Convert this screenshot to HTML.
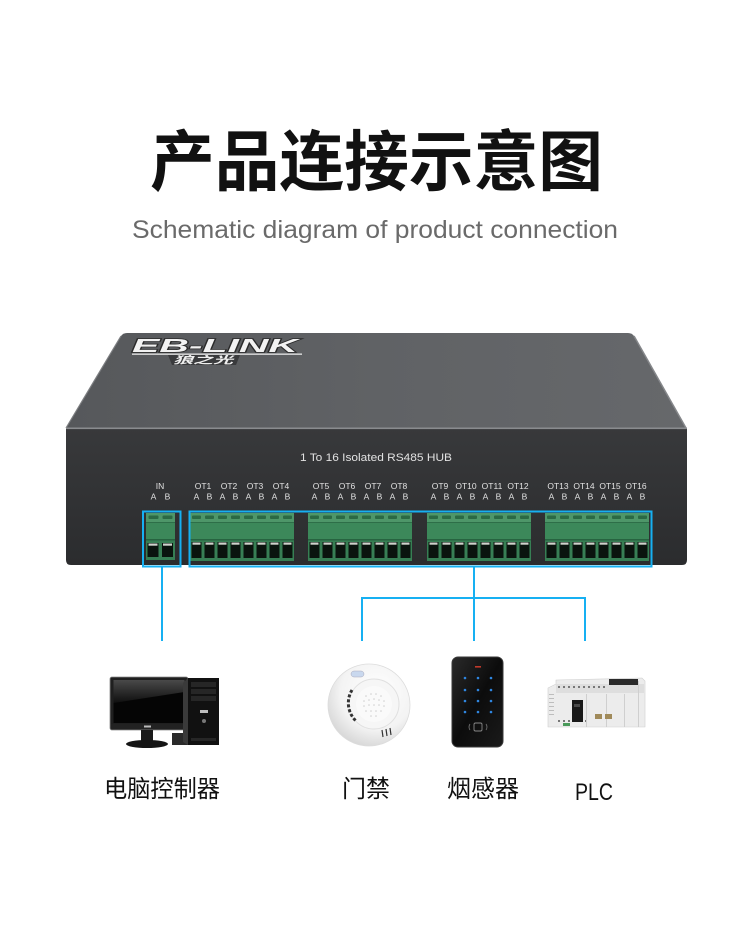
<!DOCTYPE html>
<html><head><meta charset="utf-8">
<style>
html,body{margin:0;padding:0;background:#fff;}
svg{display:block;}
</style></head>
<body>
<svg width="750" height="925" viewBox="0 0 750 925" xmlns="http://www.w3.org/2000/svg">
<defs>
  <linearGradient id="topg" x1="0" y1="0" x2="1" y2="0">
    <stop offset="0" stop-color="#56585b"/>
    <stop offset="0.5" stop-color="#606265"/>
    <stop offset="1" stop-color="#66686b"/>
  </linearGradient>
  <linearGradient id="frontg" x1="0" y1="0" x2="0" y2="1">
    <stop offset="0" stop-color="#38393b"/>
    <stop offset="1" stop-color="#2b2c2e"/>
  </linearGradient>
  <linearGradient id="scr" x1="0" y1="0" x2="0" y2="1">
    <stop offset="0" stop-color="#5a5a5a"/>
    <stop offset="1" stop-color="#111"/>
  </linearGradient>
  <radialGradient id="smk" cx="0.6" cy="0.35" r="0.75">
    <stop offset="0" stop-color="#ffffff"/>
    <stop offset="0.6" stop-color="#f3f3f3"/>
    <stop offset="1" stop-color="#cfcfcf"/>
  </radialGradient>
  <linearGradient id="kp" x1="0" y1="0" x2="1" y2="1">
    <stop offset="0" stop-color="#2a2a2a"/>
    <stop offset="0.5" stop-color="#0c0c0c"/>
    <stop offset="1" stop-color="#1a1a1a"/>
  </linearGradient>
  <g id="pin">
    <rect x="2" y="2.5" width="9" height="3.5" rx="1" fill="#2b6944"/>
    <rect x="1.5" y="29" width="10" height="16" fill="#0a140e"/>
    <rect x="2.5" y="29.5" width="8" height="2.2" fill="#cfd3cc"/>
  </g>
  <g id="blk">
    <rect width="104" height="48" fill="#377f54"/>
    <rect width="104" height="9" fill="#4e9669"/>
    <rect y="9" width="104" height="1" fill="#2e6e48"/>
    <rect y="10" width="104" height="16" fill="#3c885a"/>
    <rect y="26" width="104" height="1.5" fill="#276340"/>
    <use href="#pin" x="0"/><use href="#pin" x="13"/><use href="#pin" x="26"/><use href="#pin" x="39"/>
    <use href="#pin" x="52"/><use href="#pin" x="65"/><use href="#pin" x="78"/><use href="#pin" x="91"/>
  </g>
</defs>

<!-- Title -->
<text x="150" y="185" font-family="'Liberation Sans','Noto Sans CJK SC',sans-serif" font-size="66" font-weight="700" fill="#111" textLength="453" lengthAdjust="spacingAndGlyphs">产品连接示意图</text>
<text x="132" y="238" font-family="'Liberation Sans',sans-serif" font-size="25" fill="#6a6a6a" textLength="486" lengthAdjust="spacingAndGlyphs">Schematic diagram of product connection</text>

<!-- Device top surface -->
<path d="M127,333 L628,333 Q632,333 634,336 L686,428 L66,428 L121,336 Q123,333 127,333 Z" fill="url(#topg)"/>
<path d="M121,336 L66,428" stroke="#7c7e81" stroke-width="1.2"/>
<path d="M634,336 L686,428" stroke="#85878a" stroke-width="1.5"/>
<!-- Logo -->
<text x="132" y="352" font-family="'Liberation Sans',sans-serif" font-size="18" font-weight="700" font-style="italic" fill="#f2f2f2" stroke="#2a2a2a" stroke-width="1.4" paint-order="stroke" textLength="166" lengthAdjust="spacingAndGlyphs">EB-LINK</text>
<rect x="132" y="353.5" width="170" height="1.3" fill="#e8e8e8"/>
<path d="M168,355 L240,355 L236,365 L172,365 Z" fill="#3a3b3d"/>
<text x="173" y="363.5" font-family="'Liberation Sans','Noto Sans CJK SC',sans-serif" font-size="10" font-weight="700" font-style="italic" fill="#eeeeee" textLength="60" lengthAdjust="spacingAndGlyphs">狼之光</text>

<!-- Front face -->
<path d="M66,428 L687,428 L687,560 Q687,565 682,565 L71,565 Q66,565 66,560 Z" fill="url(#frontg)"/>
<rect x="66" y="427.5" width="621" height="1.6" fill="#8a8c8f"/>

<g font-family="'Liberation Sans',sans-serif" fill="#e2e2e2" text-anchor="middle">
  <text x="376" y="461" font-size="11" textLength="152" lengthAdjust="spacingAndGlyphs">1 To 16 Isolated RS485 HUB</text>
  <g font-size="8.5">
    <text x="160" y="489">IN</text>
    <text x="153.5" y="499.5">A</text><text x="167.5" y="499.5">B</text>

    <text x="203" y="489">OT1</text><text x="229" y="489">OT2</text><text x="255" y="489">OT3</text><text x="281" y="489">OT4</text>
    <text x="321" y="489">OT5</text><text x="347" y="489">OT6</text><text x="373" y="489">OT7</text><text x="399" y="489">OT8</text>
    <text x="440" y="489">OT9</text><text x="466" y="489">OT10</text><text x="492" y="489">OT11</text><text x="518" y="489">OT12</text>
    <text x="558" y="489">OT13</text><text x="584" y="489">OT14</text><text x="610" y="489">OT15</text><text x="636" y="489">OT16</text>

    <text x="196.5" y="499.5">A</text><text x="209.5" y="499.5">B</text><text x="222.5" y="499.5">A</text><text x="235.5" y="499.5">B</text>
    <text x="248.5" y="499.5">A</text><text x="261.5" y="499.5">B</text><text x="274.5" y="499.5">A</text><text x="287.5" y="499.5">B</text>

    <text x="314.5" y="499.5">A</text><text x="327.5" y="499.5">B</text><text x="340.5" y="499.5">A</text><text x="353.5" y="499.5">B</text>
    <text x="366.5" y="499.5">A</text><text x="379.5" y="499.5">B</text><text x="392.5" y="499.5">A</text><text x="405.5" y="499.5">B</text>

    <text x="433.5" y="499.5">A</text><text x="446.5" y="499.5">B</text><text x="459.5" y="499.5">A</text><text x="472.5" y="499.5">B</text>
    <text x="485.5" y="499.5">A</text><text x="498.5" y="499.5">B</text><text x="511.5" y="499.5">A</text><text x="524.5" y="499.5">B</text>

    <text x="551.5" y="499.5">A</text><text x="564.5" y="499.5">B</text><text x="577.5" y="499.5">A</text><text x="590.5" y="499.5">B</text>
    <text x="603.5" y="499.5">A</text><text x="616.5" y="499.5">B</text><text x="629.5" y="499.5">A</text><text x="642.5" y="499.5">B</text>
  </g>
</g>

<!-- IN block -->
<g transform="translate(146,513)">
  <rect width="29" height="47" fill="#377f54"/>
  <rect width="29" height="9" fill="#4e9669"/>
  <rect y="9" width="29" height="1" fill="#2e6e48"/>
  <rect y="10" width="29" height="16" fill="#3c885a"/>
  <rect y="26" width="29" height="1.5" fill="#276340"/>
  <rect x="2.5" y="2.5" width="10" height="3.5" rx="1" fill="#2b6944"/>
  <rect x="16.5" y="2.5" width="10" height="3.5" rx="1" fill="#2b6944"/>
  <rect x="1.5" y="30" width="11" height="14" fill="#0a140e"/>
  <rect x="2.5" y="30.5" width="9" height="2.2" fill="#cfd3cc"/>
  <rect x="16" y="30" width="11" height="14" fill="#0a140e"/>
  <rect x="17" y="30.5" width="9" height="2.2" fill="#cfd3cc"/>
</g>
<!-- OT blocks -->
<use href="#blk" x="190" y="513"/>
<use href="#blk" x="308" y="513"/>
<use href="#blk" x="427" y="513"/>
<use href="#blk" x="545" y="513"/>

<!-- Blue connectors -->
<g stroke="#16b0f2" stroke-width="2" fill="none">
  <rect x="143" y="511.5" width="37.5" height="55"/>
  <rect x="189.5" y="511.5" width="462" height="55"/>
  <line x1="162" y1="566.5" x2="162" y2="641"/>
  <line x1="474" y1="566.5" x2="474" y2="598"/>
  <polyline points="362,641 362,598 585,598 585,641"/>
  <line x1="474" y1="598" x2="474" y2="641"/>
</g>

<!-- Computer -->
<g>
  <rect x="172" y="733" width="17" height="12" fill="#2a2a2a"/>
  <rect x="110" y="677" width="78" height="53" rx="2" fill="#1f1f1f" stroke="#8a8a8a" stroke-width="0.8"/>
  <rect x="113.5" y="680" width="71" height="43" fill="#050505"/>
  <path d="M113.5,680 L184.5,680 L184.5,692 L113.5,703 Z" fill="url(#scr)" opacity="0.8"/>
  <rect x="111" y="724" width="76" height="5.5" fill="#222"/>
  <rect x="144" y="725.5" width="7" height="2" fill="#bbb"/>
  <rect x="141" y="730" width="12" height="11" fill="#1a1a1a"/>
  <ellipse cx="147" cy="744" rx="21" ry="4" fill="#141414"/>
  <path d="M183,683 L188,678 L188,745 L183,742 Z" fill="#3a3a3a"/>
  <rect x="188" y="678" width="31" height="67" fill="#111"/>
  <rect x="191" y="682" width="25" height="5" fill="#262626"/>
  <rect x="191" y="689" width="25" height="5" fill="#262626"/>
  <rect x="191" y="696" width="25" height="5" fill="#262626"/>
  <rect x="200" y="710" width="8" height="3" fill="#bdbdbd"/>
  <circle cx="204" cy="721" r="2" fill="#777"/>
  <rect x="191" y="738" width="25" height="3" fill="#262626"/>
</g>

<!-- Smoke detector -->
<g>
  <circle cx="369" cy="705" r="41" fill="url(#smk)" stroke="#dcdcdc" stroke-width="0.8"/>
  <circle cx="374" cy="704" r="25" fill="#f6f6f6" stroke="#e0e0e0" stroke-width="1"/>
  <path d="M352,690 A25,25 0 0,0 356,721" stroke="#333" stroke-width="3" fill="none" stroke-dasharray="3,2"/>
  <circle cx="374" cy="704" r="18" fill="#fafafa"/>
  <g fill="#cfcfcf">
    <circle cx="366" cy="696" r="0.8"/><circle cx="371" cy="694" r="0.8"/><circle cx="376" cy="694" r="0.8"/><circle cx="381" cy="696" r="0.8"/>
    <circle cx="364" cy="701" r="0.8"/><circle cx="369" cy="700" r="0.8"/><circle cx="374" cy="699" r="0.8"/><circle cx="379" cy="700" r="0.8"/><circle cx="384" cy="701" r="0.8"/>
    <circle cx="364" cy="706" r="0.8"/><circle cx="369" cy="705" r="0.8"/><circle cx="374" cy="705" r="0.8"/><circle cx="379" cy="705" r="0.8"/><circle cx="384" cy="706" r="0.8"/>
    <circle cx="366" cy="711" r="0.8"/><circle cx="371" cy="711" r="0.8"/><circle cx="376" cy="711" r="0.8"/><circle cx="381" cy="711" r="0.8"/>
    <circle cx="371" cy="716" r="0.8"/><circle cx="376" cy="716" r="0.8"/>
  </g>
  <rect x="351" y="671" width="13" height="6" rx="3" fill="#c9d8ee" stroke="#aab" stroke-width="0.5"/>
  <g stroke="#333" stroke-width="1.2">
    <line x1="382" y1="730" x2="383" y2="737"/><line x1="386" y1="729" x2="387" y2="736"/><line x1="390" y1="728" x2="391" y2="735"/>
  </g>
</g>

<!-- Keypad -->
<g>
  <rect x="452" y="657" width="51" height="90" rx="6" fill="url(#kp)" stroke="#3a3a3a" stroke-width="1"/>
  <rect x="475" y="666" width="6" height="1.6" fill="#c0392b"/>
  <g fill="#2f86e0">
    <circle cx="465" cy="678" r="1.3"/><circle cx="478" cy="678" r="1.3"/><circle cx="491" cy="678" r="1.3"/>
    <circle cx="465" cy="690" r="1.3"/><circle cx="478" cy="690" r="1.3"/><circle cx="491" cy="690" r="1.3"/>
    <circle cx="465" cy="701" r="1.3"/><circle cx="478" cy="701" r="1.3"/><circle cx="491" cy="701" r="1.3"/>
    <circle cx="465" cy="712" r="1.3"/><circle cx="478" cy="712" r="1.3"/><circle cx="491" cy="712" r="1.3"/>
  </g>
  <rect x="474" y="723" width="8" height="8" rx="1.5" fill="none" stroke="#888" stroke-width="0.9"/>
  <path d="M470,724 Q468,727 470,730 M486,724 Q488,727 486,730" stroke="#777" stroke-width="0.8" fill="none"/>
</g>

<!-- PLC -->
<g>
  <path d="M548,688 L556,684 L556,680 L642,678 L645,681 L645,727 L548,727 Z" fill="#ececec" stroke="#cfcfcf" stroke-width="0.6"/>
  <rect x="556" y="684" width="88" height="9" fill="#dedede"/>
  <g fill="#777">
    <rect x="558" y="686" width="2" height="2"/><rect x="563" y="686" width="2" height="2"/><rect x="568" y="686" width="2" height="2"/><rect x="573" y="686" width="2" height="2"/><rect x="578" y="686" width="2" height="2"/><rect x="583" y="686" width="2" height="2"/><rect x="588" y="686" width="2" height="2"/><rect x="593" y="686" width="2" height="2"/><rect x="598" y="686" width="2" height="2"/><rect x="603" y="686" width="2" height="2"/>
    <rect x="558" y="720" width="2" height="2"/><rect x="563" y="720" width="2" height="2"/><rect x="568" y="720" width="2" height="2"/><rect x="585" y="720" width="2" height="2"/>
  </g>
  <rect x="609" y="679" width="29" height="6" fill="#2a2a2a"/>
  <rect x="572" y="700" width="11" height="22" fill="#1a1a1a"/>
  <rect x="574" y="704" width="6" height="3" fill="#4a4a4a"/>
  <g fill="#cfcfcf">
    <rect x="586" y="694" width="1" height="33"/><rect x="606" y="694" width="1" height="33"/><rect x="624" y="694" width="1" height="33"/><rect x="638" y="681" width="1" height="46"/>
  </g>
  <rect x="595" y="714" width="7" height="5" fill="#a08a5a"/>
  <rect x="605" y="714" width="7" height="5" fill="#a08a5a"/>
  <rect x="563" y="723" width="7" height="3" fill="#4a9a5a"/>
  <g fill="#bdbdbd">
    <rect x="549" y="694" width="5" height="1"/><rect x="549" y="698" width="5" height="1"/><rect x="549" y="702" width="5" height="1"/><rect x="549" y="706" width="5" height="1"/><rect x="549" y="710" width="5" height="1"/><rect x="549" y="714" width="5" height="1"/>
  </g>
</g>

<!-- Bottom labels -->
<g font-family="'Liberation Sans','Noto Sans CJK SC',sans-serif" font-size="24" fill="#111">
  <text x="104" y="797" textLength="116" lengthAdjust="spacingAndGlyphs">电脑控制器</text>
  <text x="342" y="797" textLength="48" lengthAdjust="spacingAndGlyphs">门禁</text>
  <text x="447" y="797" textLength="72" lengthAdjust="spacingAndGlyphs">烟感器</text>
  <text x="575" y="800" textLength="38" lengthAdjust="spacingAndGlyphs">PLC</text>
</g>
</svg>
</body></html>
